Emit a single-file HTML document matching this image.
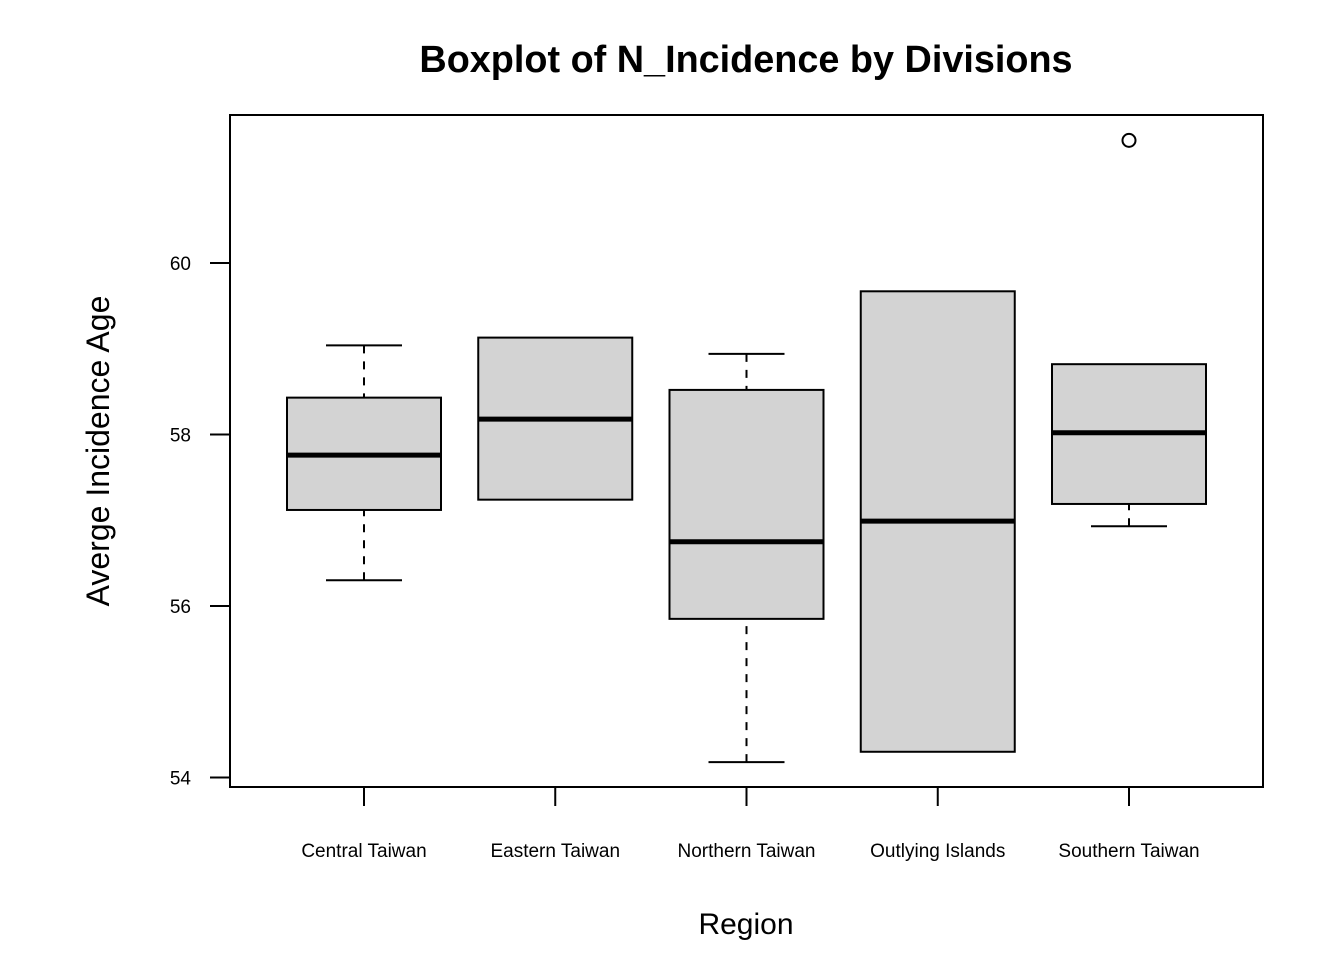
<!DOCTYPE html>
<html><head><meta charset="utf-8"><style>
html,body{margin:0;padding:0;background:#fff;}
svg{display:block;font-family:"Liberation Sans",Arial,sans-serif;}
</style></head><body>
<svg id="chart" width="1344" height="960">
<text x="746" y="72" text-anchor="middle" font-size="37.8" font-weight="bold">Boxplot of N_Incidence by Divisions</text>
<text x="746" y="934" text-anchor="middle" font-size="30">Region</text>
<text transform="translate(109,451) rotate(-90)" text-anchor="middle" font-size="32">Averge Incidence Age</text>
<rect x="230" y="115" width="1033" height="672" fill="none" stroke="#000" stroke-width="2"/>
<g id="marks"></g>
</svg>
<script>
const categories=["Central Taiwan","Eastern Taiwan","Northern Taiwan","Outlying Islands","Southern Taiwan"];
const lowerWhisker=[56.30,57.24,54.18,54.30,56.93];
const q1=[57.12,57.24,55.85,54.30,57.19];
const medians=[57.76,58.18,56.75,56.99,58.02];
const q3=[58.43,59.13,58.52,59.67,58.82];
const upperWhisker=[59.04,59.13,58.94,59.67,58.82];
const outliers=[[],[],[],[],[61.43]];
const yTicks=[54,56,58,60];

const NS="http://www.w3.org/2000/svg";
const g=document.getElementById('marks');
const y=v=>263+(60-v)*85.75;
const x=i=>364+i*191.25;
function mk(t,a){const e=document.createElementNS(NS,t);for(const k in a)e.setAttribute(k,a[k]);g.appendChild(e);return e;}
yTicks.forEach(t=>{
  const l=mk('line',{x1:210,x2:230,y1:y(t),y2:y(t),stroke:'#000','stroke-width':2});
  
  
  const tx=mk('text',{x:191,y:y(t)+7,'text-anchor':'end','font-size':19});
  tx.textContent=t;
  
  
});
categories.forEach((c,i)=>{
  const cx=x(i);
  const tk=mk('line',{x1:cx,x2:cx,y1:787,y2:806,stroke:'#000','stroke-width':2});
  
  
  const lb=mk('text',{x:cx,y:857,'text-anchor':'middle','font-size':19});
  lb.textContent=c;
  
  
  [[upperWhisker[i],q3[i]],[lowerWhisker[i],q1[i]]].forEach(([w,b])=>{
    if(w!==b){
      const wl=mk('line',{x1:cx,x2:cx,y1:y(w),y2:y(b),stroke:'#000','stroke-width':2,'stroke-dasharray':'8,8'});
      
      
      const cap=mk('line',{x1:cx-38,x2:cx+38,y1:y(w),y2:y(w),stroke:'#000','stroke-width':2});
      
      
    }
  });
  const bx=mk('rect',{x:cx-77,y:y(q3[i]),width:154,height:y(q1[i])-y(q3[i]),fill:'#d3d3d3',stroke:'#000','stroke-width':2});
  
  
  const md=mk('line',{x1:cx-77,x2:cx+77,y1:y(medians[i]),y2:y(medians[i]),stroke:'#000','stroke-width':5});
  
  
  outliers[i].forEach(o=>{
    const p=mk('circle',{cx:cx,cy:y(o),r:6.5,fill:'none',stroke:'#000','stroke-width':2});
    
    
  });
});
</script>
</body></html>
